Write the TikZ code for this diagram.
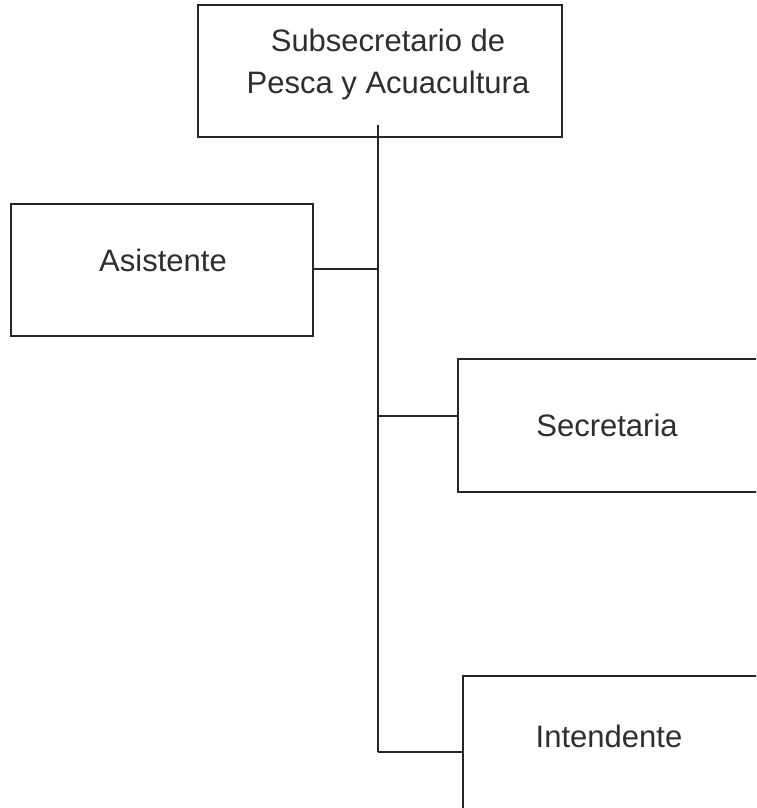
\documentclass[tikz,border=0pt]{standalone}
\usepackage{fontspec}
\setmainfont{Liberation Sans}
\begin{document}
\begin{tikzpicture}[x=1pt,y=-1pt,
  orgbox/.style={draw=black!85, line width=2pt, rectangle, inner sep=0pt},
  orgtext/.style={font=\fontsize{31}{42}\selectfont, text=black!82, align=center},
  conn/.style={draw=black!85, line width=2pt}]
\useasboundingbox (0,0) rectangle (756,808);
\clip (0,0) rectangle (756,808);
\fill[white] (0,0) rectangle (756,808);
\node[orgbox, minimum width=364pt, minimum height=132pt] (top) at (380,71) {};
\node[orgtext] (toptext) at (388,64) {Subsecretario de\\Pesca y Acuacultura};
\node[orgbox, minimum width=302pt, minimum height=132pt] (asis) at (162,270) {};
\node[orgtext] (asistext) at (163,260) {Asistente};
\node[orgbox, minimum width=300pt, minimum height=133pt] (secr) at (608,425.5) {};
\node[orgtext] (secrtext) at (607,425) {Secretaria};
\node[orgbox, minimum width=295pt, minimum height=133pt] (inte) at (610.5,742.5) {};
\node[orgtext] (intetext) at (609,736) {Intendente};
\coordinate (t0) at (378,125);
\coordinate (j1) at (378,269);
\coordinate (j2) at (378,416);
\coordinate (j3) at (378,752);
\draw[conn] (t0) -- (j3);
\draw[conn] (asis.east |- j1) -- (j1);
\draw[conn] (secr.west |- j2) -- (j2);
\draw[conn] (inte.west |- j3) -- (j3);
\end{tikzpicture}
\end{document}
